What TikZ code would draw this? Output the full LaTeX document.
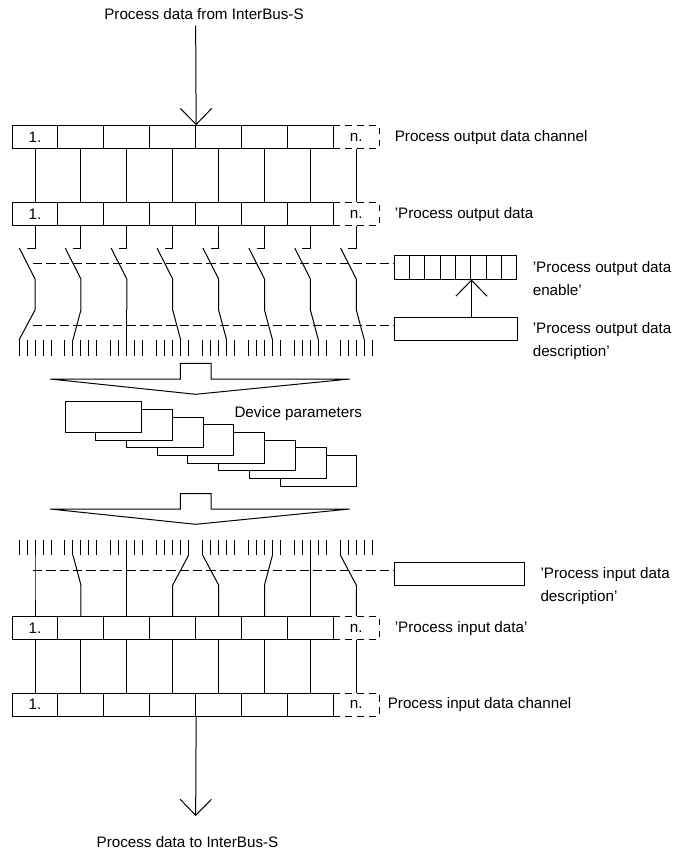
\documentclass[tikz,border=0pt]{standalone}
\usepackage{fontspec}
\setmainfont{Liberation Sans}
\usetikzlibrary{arrows.meta}
\tikzset{
    regcell/.style={draw, minimum width=34.43pt, minimum height=17pt, inner sep=0pt, fill=white, font=\fontsize{11.4pt}{13pt}\selectfont},
    regend/.style={draw, dash pattern=on 5pt off 4pt, minimum width=34.43pt, minimum height=17pt, inner sep=0pt, font=\fontsize{11.4pt}{13pt}\selectfont},
    enbcell/.style={draw, minimum width=11.5pt, minimum height=17.6pt, inner sep=0pt},
    descbox/.style={draw, minimum height=17.3pt, inner sep=0pt},
    parambox/.style={draw, fill=white, minimum width=57.5pt, minimum height=23pt, inner sep=0pt},
    ctrlline/.style={dash pattern=on 7pt off 3pt},
    vee/.style={-{Straight Barb[length=12pt, width=23.5pt, line width=.75pt]}},
    lbl/.style={inner sep=0pt, yshift=-1.2pt, text height=8.2pt, text depth=2.4pt, font=\fontsize{11.4pt}{13pt}\selectfont},
}
\begin{document}
\begin{tikzpicture}[x=.75pt, y=-.75pt, line width=.75pt]
    \useasboundingbox (0, 0) rectangle (672, 852);

    \node[lbl] (pdin) at (204, 14) {Process data from InterBus-S};
    \node[lbl] (pdout) at (187.5, 842) {Process data to InterBus-S};

    \node[regend] (poc8) at (356.3, 137) {n.};
    \node[regend] (pod8) at (356.3, 214) {n.};
    \node[regend] (pid8) at (356.3, 628) {n.};
    \node[regend] (pic8) at (356.3, 704.7) {n.};

    \node[regcell] (poc1) at (35, 137) {1.};
    \node[regcell] (pod1) at (35, 214) {1.};
    \node[regcell] (pid1) at (35, 628) {1.};
    \node[regcell] (pic1) at (35, 704.7) {1.};
    \foreach \i [evaluate=\i as \x using 35+45.9*(\i-1)] in {2,...,7} {
        \node[regcell] (poc\i) at (\x, 137) {};
        \node[regcell] (pod\i) at (\x, 214) {};
        \node[regcell] (pid\i) at (\x, 628) {};
        \node[regcell] (pic\i) at (\x, 704.7) {};
    }

    \node[lbl, anchor=west] (lpoc) at (394.3, 136) {Process output data channel};
    \node[lbl, anchor=west] (lpod) at (394.3, 213) {'Process output data};
    \node[lbl, anchor=west] (lpid) at (394.3, 627) {'Process input data'};
    \node[lbl, anchor=west] (lpic) at (387.3, 703) {Process input data channel};
    \node[lbl, anchor=west] (lpoe1) at (532.3, 267) {'Process output data};
    \node[lbl, anchor=west] (lpoe2) at (532.3, 290) {enable'};
    \node[lbl, anchor=west] (lpos1) at (532.3, 328) {'Process output data};
    \node[lbl, anchor=west] (lpos2) at (532.3, 351) {description'};
    \node[lbl, anchor=west] (lpis1) at (540, 573) {'Process input data};
    \node[lbl, anchor=west] (lpis2) at (540, 596) {description'};
    \node[lbl, anchor=west] (ldev) at (234, 412) {Device parameters};

    \coordinate (arrin) at (195.65, 25.7);
    \coordinate (arrout) at (195.65, 816);
    \draw[vee] (arrin) -- (poc4.north east);
    \draw[vee] (pic4.south east) -- (arrout);

    \foreach \i in {1,...,8} {
        \draw (poc\i.south) -- (pod\i.north);
        \draw (pid\i.south) -- (pic\i.north);
    }

    \foreach \i [evaluate=\i as \x using 394.3+15.33*(\i-.5)] in {1,...,8} {
        \node[enbcell] (enb\i) at (\x, 267.3) {};
    }
    \node[descbox, minimum width=92.2pt] (odesc) at (455.65, 328.7) {};
    \node[descbox, minimum width=97.8pt] (idesc) at (459.5, 574.2) {};
    \draw[vee] (odesc.north -| enb5.south east) -- (enb5.south east);

    \coordinate (dlen) at (33, 263.7);
    \coordinate (dlod) at (33, 325);
    \coordinate (dlid) at (33, 570.3);
    \draw[ctrlline] (dlen) -- (dlen -| enb1.west);
    \draw[ctrlline] (dlod) -- (dlod -| odesc.west);
    \draw[ctrlline] (dlid) -- (dlid -| idesc.west);

    \foreach \i [evaluate=\i as \x using 35+45.9*(\i-1)] in {1,...,8} {
        \coordinate (osa\i) at (\x, 279);
        \coordinate (osb\i) at (\x, 310);
        \coordinate (isa\i) at (\x, 585);
        \foreach \k in {1,...,5} {
            \pgfmathsetmacro{\tx}{\x+8*(\k-3)}
            \coordinate (ot\i-\k) at (\tx, 340);
            \coordinate (it\i-\k) at (\tx, 555);
            \draw (ot\i-\k) -- (\tx, 356);
            \draw (it\i-\k) -- (\tx, 540);
        }
        \draw (pod\i.south) -- ++(0, 22.7) -- ++(-8, 0);
        \draw (osa\i) ++(-15.7, -31) -- (osa\i) -- (osb\i);
    }

    \foreach \i/\k in {1/1, 2/2, 3/3, 4/4, 5/4, 6/4, 7/4, 8/4} {
        \draw (osb\i) -- (ot\i-\k);
    }
    \foreach \i/\k in {1/3, 2/2, 3/3, 4/5, 5/1, 6/4, 7/3, 8/1} {
        \draw (it\i-\k) -- (isa\i) -- (pid\i.north);
    }

    \draw (50, 379) -- (180.3, 379) -- (180.3, 363.3) -- (211, 363.3) -- (211, 379) -- (349.7, 379) -- (195.65, 394.3) -- cycle;
    \draw (50, 509) -- (180.3, 509) -- (180.3, 493.7) -- (211, 493.7) -- (211, 509) -- (349.7, 509) -- (195.65, 524.3) -- cycle;

    \foreach \i [evaluate=\i as \x using 103.65+30.67*(\i-1), evaluate=\i as \y using 417+7.67*(\i-1)] in {8,...,1} {
        \node[parambox] (par\i) at (\x, \y) {};
    }
\end{tikzpicture}
\end{document}
